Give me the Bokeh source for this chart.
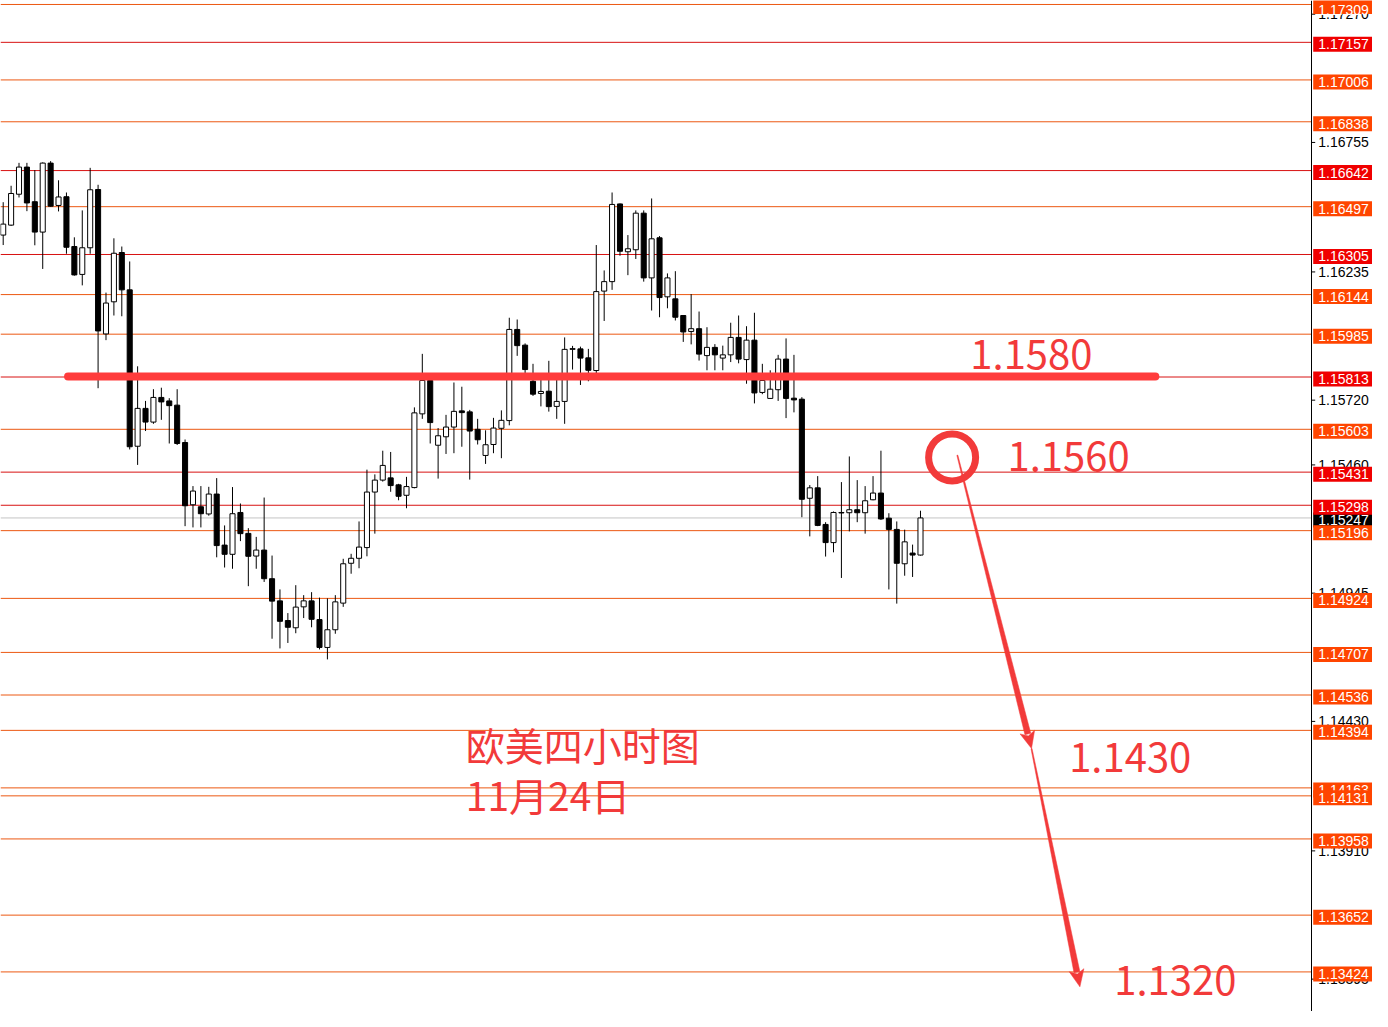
import math
from bokeh.plotting import figure
from bokeh.models import Range1d, ColumnDataSource
from bokeh.core.properties import value
from bokeh.embed import file_html
from bokeh.resources import INLINE

# ---------------- data (EURUSD H4) ----------------
opens = [1.16383, 1.16423, 1.16547, 1.16656, 1.16517, 1.16395, 1.16672, 1.16502, 1.16537, 1.16337,
         1.16225, 1.16332, 1.16566, 1.15986, 1.16115, 1.16313, 1.16163, 1.15535, 1.15687, 1.15632,
         1.15731, 1.15717, 1.15700, 1.15550, 1.15300, 1.15292, 1.15263, 1.15343, 1.15138, 1.15101,
         1.15269, 1.15185, 1.15094, 1.15118, 1.15003, 1.14914, 1.14835, 1.14806, 1.14890, 1.14914,
         1.14839, 1.14727, 1.14798, 1.14905, 1.15065, 1.15085, 1.15128, 1.15351, 1.15399, 1.15408,
         1.15380, 1.15338, 1.15369, 1.15665, 1.15799, 1.15539, 1.15573, 1.15612, 1.15677, 1.15673,
         1.15603, 1.15498, 1.15542, 1.15607, 1.15638, 1.16004, 1.15941, 1.15796, 1.15747, 1.15756,
         1.15695, 1.15715, 1.15924, 1.15926, 1.15890, 1.15839, 1.16158, 1.16196, 1.16508, 1.16316,
         1.16324, 1.16471, 1.16211, 1.16372, 1.16135, 1.16127, 1.16060, 1.15996, 1.16007, 1.15899,
         1.15932, 1.15889, 1.15902, 1.15972, 1.15883, 1.15961, 1.15751, 1.15727, 1.15762, 1.15885,
         1.15728, 1.15724, 1.15326, 1.15368, 1.15221, 1.15148, 1.15269, 1.15268, 1.15280, 1.15268,
         1.15320, 1.15347, 1.15246, 1.15201, 1.15063, 1.15106, 1.15098]
highs = [1.16515, 1.16581, 1.16673, 1.16673, 1.16644, 1.16675, 1.16680, 1.16603, 1.16554, 1.16374,
         1.16482, 1.16653, 1.16585, 1.16152, 1.16370, 1.16337, 1.16277, 1.15856, 1.15717, 1.15764,
         1.15770, 1.15728, 1.15764, 1.15562, 1.15375, 1.15375, 1.15372, 1.15407, 1.15217, 1.15371,
         1.15305, 1.15206, 1.15171, 1.15329, 1.15096, 1.14960, 1.14865, 1.14977, 1.14937, 1.14949,
         1.14927, 1.14924, 1.14937, 1.15083, 1.15103, 1.15233, 1.15441, 1.15422, 1.15517, 1.15512,
         1.15384, 1.15412, 1.15691, 1.15906, 1.15811, 1.15608, 1.15661, 1.15791, 1.15774, 1.15681,
         1.15645, 1.15599, 1.15649, 1.15679, 1.16051, 1.16044, 1.15948, 1.15866, 1.15803, 1.15878,
         1.15807, 1.15972, 1.15938, 1.15935, 1.15926, 1.16343, 1.16241, 1.16554, 1.16510, 1.16383,
         1.16482, 1.16482, 1.16530, 1.16379, 1.16229, 1.16238, 1.16062, 1.16146, 1.16076, 1.16013,
         1.15945, 1.15939, 1.16031, 1.16060, 1.16017, 1.16071, 1.15866, 1.15840, 1.15902, 1.15968,
         1.15902, 1.15732, 1.15379, 1.15415, 1.15230, 1.15273, 1.15391, 1.15494, 1.15399, 1.15375,
         1.15415, 1.15517, 1.15266, 1.15233, 1.15200, 1.15140, 1.15276]
lows = [1.16343, 1.16420, 1.16534, 1.16479, 1.16342, 1.16247, 1.16497, 1.16478, 1.16308, 1.16220,
        1.16181, 1.16308, 1.15768, 1.15961, 1.16060, 1.16057, 1.15522, 1.15460, 1.15596, 1.15625,
        1.15641, 1.15546, 1.15540, 1.15214, 1.15209, 1.15209, 1.15256, 1.15089, 1.15048, 1.15043,
        1.15154, 1.14973, 1.15043, 1.14990, 1.14762, 1.14723, 1.14745, 1.14784, 1.14845, 1.14808,
        1.14719, 1.14679, 1.14782, 1.14890, 1.15023, 1.15045, 1.15093, 1.15184, 1.15393, 1.15352,
        1.15318, 1.15286, 1.15366, 1.15645, 1.15546, 1.15405, 1.15504, 1.15507, 1.15533, 1.15401,
        1.15542, 1.15464, 1.15507, 1.15487, 1.15619, 1.15898, 1.15815, 1.15737, 1.15695, 1.15674,
        1.15645, 1.15625, 1.15843, 1.15781, 1.15796, 1.15823, 1.16038, 1.16163, 1.16300, 1.16222,
        1.16287, 1.16196, 1.16080, 1.16053, 1.16089, 1.16040, 1.15954, 1.15944, 1.15879, 1.15840,
        1.15840, 1.15840, 1.15873, 1.15868, 1.15786, 1.15707, 1.15744, 1.15725, 1.15717, 1.15648,
        1.15671, 1.15250, 1.15173, 1.15214, 1.15092, 1.15109, 1.15006, 1.15193, 1.15230, 1.15184,
        1.15318, 1.15239, 1.14960, 1.14903, 1.15015, 1.15010, 1.15096]
closes = [1.16427, 1.16550, 1.16656, 1.16512, 1.16395, 1.16672, 1.16499, 1.16536, 1.16334, 1.16223,
          1.16332, 1.16565, 1.15998, 1.16110, 1.16310, 1.16163, 1.15533, 1.15687, 1.15632, 1.15731,
          1.15713, 1.15698, 1.15546, 1.15296, 1.15355, 1.15264, 1.15343, 1.15136, 1.15101, 1.15264,
          1.15184, 1.15093, 1.15118, 1.15003, 1.14913, 1.14832, 1.14808, 1.14889, 1.14914, 1.14840,
          1.14727, 1.14798, 1.14910, 1.15063, 1.15085, 1.15130, 1.15351, 1.15399, 1.15458, 1.15377,
          1.15334, 1.15373, 1.15669, 1.15799, 1.15630, 1.15577, 1.15612, 1.15675, 1.15670, 1.15596,
          1.15561, 1.15541, 1.15608, 1.15639, 1.16004, 1.15939, 1.15843, 1.15744, 1.15755, 1.15694,
          1.15715, 1.15924, 1.15927, 1.15889, 1.15840, 1.16156, 1.16196, 1.16506, 1.16318, 1.16328,
          1.16471, 1.16211, 1.16368, 1.16132, 1.16211, 1.16053, 1.15994, 1.16007, 1.15905, 1.15932,
          1.15902, 1.15902, 1.15972, 1.15885, 1.15961, 1.15749, 1.15799, 1.15764, 1.15885, 1.15727,
          1.15721, 1.15322, 1.15368, 1.15217, 1.15148, 1.15269, 1.15267, 1.15280, 1.15268, 1.15316,
          1.15347, 1.15243, 1.15201, 1.15065, 1.15151, 1.15098, 1.15247]

red_levels = [1.17157, 1.16642, 1.16305, 1.15813, 1.15431, 1.15298]
orange_levels = [1.17309, 1.17006, 1.16838, 1.16497, 1.16144, 1.15985, 1.15603, 1.15196,
                 1.14924, 1.14707, 1.14536, 1.14394, 1.14163, 1.14131, 1.13958, 1.13652, 1.13424]
last_price = 1.15247
axis_ticks = [1.17270, 1.16755, 1.16235, 1.15720, 1.15460, 1.14945, 1.14430, 1.13910, 1.13395]
axis_tick_labels = ["1.17270", "1.16755", "1.16235", "1.15720", "1.15460",
                    "1.14945", "1.14430", "1.13910", "1.13395"]

key_line_price = 1.15815
key_line_x = [8.2, 145.7]
target_texts = ["1.1580", "1.1560", "1.1430", "1.1320"]
target_x = [122.3, 127.0, 134.8, 140.5]
target_y = [1.15902, 1.15494, 1.14284, 1.13390]
title_texts = ["欧美四小时图", "11月24日"]
title_x = [58.5, 58.5]
title_y = [1.14340, 1.14139]
circle_pt = (120.0, 1.15490)
arrow1 = ((120.66, 1.15499), (130.04, 1.14321))
arrow2 = ((130.04, 1.14321), (136.16, 1.13364))

# ---------------- figure ----------------
W, H = 1372, 1011
x0, x1 = -0.34, 173.16          # chart area + price-scale strip
y0, y1 = 1.13265, 1.17325
x_axis = 165.41                 # position of the price scale line
sxu = W / (x1 - x0)
syu = H / (y1 - y0)

p = figure(width=W, height=H, x_range=Range1d(x0, x1), y_range=Range1d(y0, y1),
           x_axis_location=None, y_axis_location=None, toolbar_location=None,
           output_backend="svg", min_border=0)
p.grid.visible = False
p.outline_line_color = None
p.background_fill_color = "white"
p.border_fill_color = "white"

RED_LINE = "#D81212"
ORANGE_LINE = "#EC5812"
p.segment(x0=x0, x1=x_axis, y0=[last_price], y1=[last_price], line_color="#C4C4C4", line_width=1)
p.segment(x0=x0, x1=x_axis, y0=red_levels, y1=red_levels, line_color=RED_LINE, line_width=1)
p.segment(x0=x0, x1=x_axis, y0=orange_levels, y1=orange_levels, line_color=ORANGE_LINE, line_width=1)

# candles
xs = list(range(len(opens)))
src = ColumnDataSource(dict(
    x=xs, high=highs, low=lows,
    top=[max(o, c) for o, c in zip(opens, closes)],
    bottom=[min(o, c) for o, c in zip(opens, closes)],
    fill=["white" if c >= o else "black" for o, c in zip(opens, closes)],
))
p.segment(x0="x", y0="low", x1="x", y1="high", source=src, line_color="black", line_width=1)
p.vbar(x="x", width=0.64, top="top", bottom="bottom", source=src,
       fill_color="fill", line_color="black", line_width=1)

# annotations
ANN = "#F23A3A"
p.line(x=key_line_x, y=[key_line_price, key_line_price], line_width=8,
       line_color="#FF3C3C", line_cap="round")
p.scatter(x=[circle_pt[0]], y=[circle_pt[1]], marker="circle", size=47,
          fill_color=None, line_color=ANN, line_width=7)


def to_px(x, y):
    return (x - x0) * sxu, (y1 - y) * syu


def to_data(px, py):
    return x0 + px / sxu, y1 - py / syu


def arrow_polys(start, tip, w0=1.0, w1=6.0, hl=15.0, hw=15.0):
    sx_, sy_ = to_px(*start)
    tx, ty = to_px(*tip)
    dx, dy = tx - sx_, ty - sy_
    L = math.hypot(dx, dy)
    ux, uy = dx / L, dy / L
    nx, ny = -uy, ux
    bx, by = tx - ux * hl, ty - uy * hl
    shaft = [(sx_ + nx * w0 / 2, sy_ + ny * w0 / 2), (bx + nx * w1 / 2, by + ny * w1 / 2),
             (bx - nx * w1 / 2, by - ny * w1 / 2), (sx_ - nx * w0 / 2, sy_ - ny * w0 / 2)]
    head = [(bx + nx * hw / 2 - ux * 2, by + ny * hw / 2 - uy * 2), (tx, ty),
            (bx - nx * hw / 2 - ux * 2, by - ny * hw / 2 - uy * 2), (bx + ux * 2, by + uy * 2)]
    polys = []
    for poly in (shaft, head):
        pts = [to_data(a, b) for a, b in poly]
        polys.append(([q[0] for q in pts], [q[1] for q in pts]))
    return polys


pxs, pys = [], []
for a in (arrow1, arrow2):
    for px_, py_ in arrow_polys(*a):
        pxs.append(px_)
        pys.append(py_)
p.patches(xs=pxs, ys=pys, fill_color=ANN, line_color=ANN, line_width=0.5)

p.text(x=target_x, y=target_y, text=target_texts, text_font=value("Noto Sans CJK SC"),
       text_font_size="40px", text_color=ANN, text_baseline="alphabetic", text_align="left")
p.text(x=title_x, y=title_y, text=title_texts, text_font=value("Noto Sans CJK SC"),
       text_font_size="39px", text_color=ANN, text_baseline="alphabetic", text_align="left")

# ---------------- price scale ----------------
SCALE_FONT = value("Liberation Sans")
SCALE_SIZE = "14px"
p.vspan(x=[x_axis], line_color="black", line_width=1)
tick_len = 4.0 / sxu
label_x = x_axis + 7.0 / sxu
box_cx = x_axis + 32.0 / sxu
box_dy = 2.0 / syu              # boxes sit ~2px below their level line
top_text_y = y1 - 9.0 / syu     # keep the top label's text inside the picture
p.segment(x0=x_axis, x1=x_axis + tick_len, y0=axis_ticks, y1=axis_ticks,
          line_color="black", line_width=1)
p.text(x=label_x, y=axis_ticks, text=axis_tick_labels, text_font=SCALE_FONT,
       text_font_size=SCALE_SIZE, text_color="black", text_baseline="middle", text_align="left")


def add_box(price, bg):
    ty = min(price - box_dy, top_text_y)
    p.rect(x=[box_cx], y=[price - box_dy], width=60, height=15, width_units="screen",
           height_units="screen", fill_color=bg, line_color=None)
    p.text(x=[label_x], y=[ty], text=[f"{price:.5f}"], text_font=SCALE_FONT,
           text_font_size=SCALE_SIZE, text_color="white", text_baseline="middle",
           text_align="left")


add_box(last_price, "black")
levels = [(v, "#F00000") for v in red_levels] + [(v, "#FF4500") for v in orange_levels]
levels.sort(key=lambda t: -t[0])
for v, c in levels:
    add_box(v, c)

open("out.html", "w").write(file_html(p, INLINE))
